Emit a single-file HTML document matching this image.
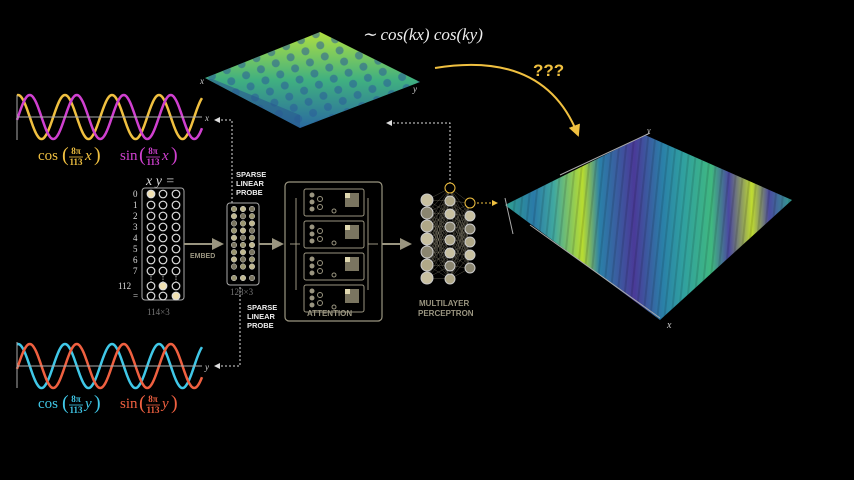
<!DOCTYPE html>
<html><head><meta charset="utf-8"><style>
body{margin:0;background:#000;width:854px;height:480px;overflow:hidden}
svg{display:block}
.m{font-family:"Liberation Serif",serif;font-style:italic}
.s{font-family:"Liberation Sans",sans-serif;font-weight:bold}
</style></head><body>
<svg id="v" width="854" height="480" viewBox="0 0 854 480">
<defs>
<linearGradient id="stripes" gradientUnits="userSpaceOnUse" x1="505" y1="0" x2="792" y2="0">
<stop offset="0" stop-color="#30a090"/><stop offset="0.1" stop-color="#2a7aa8"/><stop offset="0.17" stop-color="#40a8a0"/><stop offset="0.27" stop-color="#b8dc30"/><stop offset="0.33" stop-color="#2a80a8"/><stop offset="0.45" stop-color="#4a3a98"/><stop offset="0.55" stop-color="#2a80a8"/><stop offset="0.62" stop-color="#30a0a0"/><stop offset="0.72" stop-color="#40b880"/><stop offset="0.78" stop-color="#4a48a0"/><stop offset="0.86" stop-color="#c0dc30"/><stop offset="0.92" stop-color="#4a4aa0"/><stop offset="1" stop-color="#30a090"/>
</linearGradient>
<pattern id="fine" width="7" height="300" patternUnits="userSpaceOnUse" patternTransform="rotate(6)">
<rect width="2" height="300" fill="#000" opacity="0.12"/>
</pattern>
<linearGradient id="tg" x1="0" y1="0" x2="0" y2="1">
<stop offset="0" stop-color="#b0e040"/><stop offset="0.5" stop-color="#40b080"/><stop offset="1" stop-color="#2a6aa0"/>
</linearGradient>
<pattern id="bumps" width="16" height="12" patternUnits="userSpaceOnUse" patternTransform="rotate(-22)">
<circle cx="8" cy="6" r="4" fill="#2a5a98" opacity="0.55"/>
</pattern>
<marker id="ah" markerWidth="6" markerHeight="6" refX="5" refY="3" orient="auto"><path d="M0,0L6,3L0,6z" fill="#ddd"/></marker>
<marker id="ay" markerWidth="6" markerHeight="6" refX="5" refY="3" orient="auto"><path d="M0,0L6,3L0,6z" fill="#f0c040"/></marker>
<marker id="ag" markerWidth="6" markerHeight="6" refX="5" refY="3" orient="auto"><path d="M0,0L6,3L0,6z" fill="#9a9580"/></marker>
</defs>
<polygon points="205,78 320,32 420,82 300,128" fill="url(#tg)"/>
<polygon points="205,78 320,32 420,82 300,128" fill="url(#bumps)"/>
<polygon points="205,78 300,128 300,115 215,80" fill="#2a5a90" opacity="0.6"/>
<text x="200" y="84" class="m" fill="#ccc" font-size="9">x</text>
<text x="413" y="92" class="m" fill="#ccc" font-size="9">y</text>
<text x="362" y="40" class="m" fill="#eee" font-size="17">∼ cos(kx) cos(ky)</text>
<text x="533" y="76" class="s" fill="#f0c040" font-size="17">???</text>
<path d="M435,68 Q545,50 578,135" fill="none" stroke="#f0c040" stroke-width="2" marker-end="url(#ay)"/>
<polygon points="505,205 645,135 792,200 660,320" fill="url(#stripes)"/>
<polygon points="505,205 645,135 792,200 660,320" fill="url(#fine)"/>
<line x1="505" y1="198" x2="513" y2="234" stroke="#aaa" stroke-width="1"/>
<line x1="530" y1="225" x2="660" y2="318" stroke="#aaa" stroke-width="1"/>
<line x1="560" y1="175" x2="650" y2="133" stroke="#aaa" stroke-width="1"/>
<text x="667" y="328" class="m" fill="#ccc" font-size="10">x</text>
<text x="647" y="133" class="m" fill="#ccc" font-size="8">y</text>
<g id="waves"></g>
<line x1="17" y1="117" x2="202" y2="117" stroke="#aaa"/><line x1="17" y1="95" x2="17" y2="140" stroke="#aaa"/>
<line x1="17" y1="366" x2="202" y2="366" stroke="#aaa"/><line x1="17" y1="342" x2="17" y2="388" stroke="#aaa"/>
<text x="205" y="121" class="m" fill="#ccc" font-size="9">x</text>
<text x="205" y="370" class="m" fill="#ccc" font-size="9">y</text>
<g id="labs" font-family="Liberation Serif"></g>
<path d="M232,203 V120 H215" fill="none" stroke="#ddd" stroke-dasharray="2,2" marker-end="url(#ah)"/>
<path d="M240,287 V366 H215" fill="none" stroke="#ddd" stroke-dasharray="2,2" marker-end="url(#ah)"/>
<path d="M450,188 V123 H387" fill="none" stroke="#ddd" stroke-dasharray="2,2" marker-end="url(#ah)"/>
<path d="M477,203 H497" fill="none" stroke="#f0c040" stroke-dasharray="2,2" marker-end="url(#ay)"/>
<text x="146" y="185" class="m" fill="#ddd" font-size="14">x y =</text>
<rect x="142" y="188" width="42" height="112" rx="3" fill="none" stroke="#aaa"/>
<g id="mat"></g>
<text x="147" y="315" fill="#777" font-family="Liberation Serif" font-size="9">114×3</text>
<text x="190" y="258" class="s" fill="#9a9580" font-size="7">EMBED</text>
<line x1="184" y1="244" x2="222" y2="244" stroke="#9a9580" stroke-width="2" marker-end="url(#ag)"/>
<rect x="227" y="203" width="32" height="82" rx="3" fill="none" stroke="#aaa"/>
<text x="230" y="295" fill="#777" font-family="Liberation Serif" font-size="9">128×3</text>
<text x="236" y="177" class="s" fill="#eee" font-size="7.5">SPARSE</text><text x="236" y="186" class="s" fill="#eee" font-size="7.5">LINEAR</text><text x="236" y="195" class="s" fill="#eee" font-size="7.5">PROBE</text>
<text x="247" y="310" class="s" fill="#eee" font-size="7.5">SPARSE</text><text x="247" y="319" class="s" fill="#eee" font-size="7.5">LINEAR</text><text x="247" y="328" class="s" fill="#eee" font-size="7.5">PROBE</text>
<line x1="259" y1="244" x2="282" y2="244" stroke="#9a9580" stroke-width="2" marker-end="url(#ag)"/>
<rect x="285" y="182" width="97" height="139" rx="4" fill="none" stroke="#9a9580" stroke-width="1.2"/>
<text x="307" y="316" class="s" fill="#9a9580" font-size="8">ATTENTION</text>
<line x1="382" y1="244" x2="410" y2="244" stroke="#9a9580" stroke-width="2" marker-end="url(#ag)"/>
<g id="att"></g>
<g id="mlp"></g>
<text x="419" y="306" class="s" fill="#9a9580" font-size="8">MULTILAYER</text>
<text x="418" y="316" class="s" fill="#9a9580" font-size="8">PERCEPTRON</text>
</svg>
<script>
const NS="http://www.w3.org/2000/svg";
function el(p,t,a,txt){const e=document.createElementNS(NS,t);for(const k in a)e.setAttribute(k,a[k]);if(txt!==undefined)e.textContent=txt;p.appendChild(e);return e;}
const w=document.getElementById('waves');
function wave(y0,ph,col){let d="";for(let x=17;x<=202;x++){const y=y0-22*Math.cos((x-18)/47*2*Math.PI+ph);d+=(x==17?"M":"L")+x+","+y.toFixed(1);}el(w,"path",{d:d,fill:"none",stroke:col,"stroke-width":2.5});}
wave(117,0,"#f0c040");wave(117,-Math.PI/2,"#d040d0");
wave(366,0,"#40c8e8");wave(366,-Math.PI/2,"#f06040");
const L=document.getElementById('labs');
function lab(x,y,fn,v,col){
 el(L,"text",{x:x,y:y,fill:col,"font-size":15},fn);
 const fx=x+(fn=="cos"?24:19);
 el(L,"text",{x:fx,y:y+1,fill:col,"font-size":20},"(");
 el(L,"text",{x:fx+14,y:y-6,fill:col,"font-size":9,"font-weight":"bold","text-anchor":"middle"},"8π");
 el(L,"line",{x1:fx+7,y1:y-3,x2:fx+21,y2:y-3,stroke:col,"stroke-width":0.8});
 el(L,"text",{x:fx+14,y:y+5,fill:col,"font-size":9,"font-weight":"bold","text-anchor":"middle"},"113");
 el(L,"text",{x:fx+23,y:y,fill:col,"font-size":15,"font-style":"italic"},v);
 el(L,"text",{x:fx+32,y:y+1,fill:col,"font-size":20},")");
}
lab(38,160,"cos","x","#f0c040");lab(120,160,"sin","x","#d040d0");
lab(38,408,"cos","y","#40c8e8");lab(120,408,"sin","y","#f06040");
const m=document.getElementById('mat');
const rows=[194,205,216,227,238,249,260,271,286,296];
const labs=["0","1","2","3","4","5","6","7","112","="];
rows.forEach((y,i)=>{el(m,"text",{x:i==8?118:133,y:y+3,fill:"#ddd","font-family":"Liberation Serif","font-size":9},labs[i]);
[151,163,176].forEach((x,j)=>{const f=(i==0&&j==0)||(i==8&&j==1)||(i==9&&j==2);el(m,"circle",{cx:x,cy:y,r:3.8,fill:f?"#f0e0b0":"none",stroke:"#ddd","stroke-width":1.2});});});
[151,163,176].forEach(x=>{for(let k=0;k<3;k++)el(m,"rect",{x:x-0.5,y:276+k*2.5,width:1,height:1.5,fill:"#aaa"})});
for(let j=0;j<3;j++)for(let i=0;i<10;i++)el(m,"circle",{cx:234+j*9,cy:i<9?209+i*7.2:278,r:2.8,fill:["#9a9570","#c0b890","#7a7560"][(i+j)%3],stroke:"#ccc","stroke-width":0.5});
const a=document.getElementById('att');
for(let k=0;k<4;k++){const y=189+k*32;el(a,"rect",{x:304,y:y,width:60,height:27,rx:2,fill:"none",stroke:"#9a9580"});
for(let i=0;i<3;i++)el(a,"circle",{cx:312,cy:y+6+i*7,r:2.5,fill:"#9a9580"});el(a,"circle",{cx:320,cy:y+10,r:2.5,fill:"none",stroke:"#9a9580"});el(a,"circle",{cx:320,cy:y+18,r:2.5,fill:"none",stroke:"#9a9580"});
el(a,"rect",{x:345,y:y+4,width:14,height:14,fill:"#7a7560"});el(a,"rect",{x:345,y:y+4,width:5,height:5,fill:"#e0d8b0"});
el(a,"circle",{cx:334,cy:y+22,r:2,fill:"none",stroke:"#9a9580"});}
el(a,"path",{d:"M290,244 H300 M296,198 V290 M368,198 V290 M368,244 H378",stroke:"#9a9580",fill:"none"});
const p=document.getElementById('mlp');
const cols=[[427,[200,213,226,239,252,265,278]],[450,[188,201,214,227,240,253,266,279]],[470,[203,216,229,242,255,268]]];
for(let c=0;c<2;c++)cols[c][1].forEach(y1=>cols[c+1][1].forEach(y2=>el(p,"line",{x1:cols[c][0],y1:y1,x2:cols[c+1][0],y2:y2,stroke:"#8a8570","stroke-width":0.3})));
cols.forEach(([x,ys],c)=>ys.forEach((y,i)=>el(p,"circle",{cx:x,cy:y,r:c==0?6:5,fill:(c==1&&i==0)||(c==2&&i==0)?"#000":["#c8c0a0","#8a8570","#b0a888"][(i+c)%3],stroke:(c==1&&i==0)||(c==2&&i==0)?"#f0c040":"#ccc","stroke-width":1})));
</script>
</body></html>
